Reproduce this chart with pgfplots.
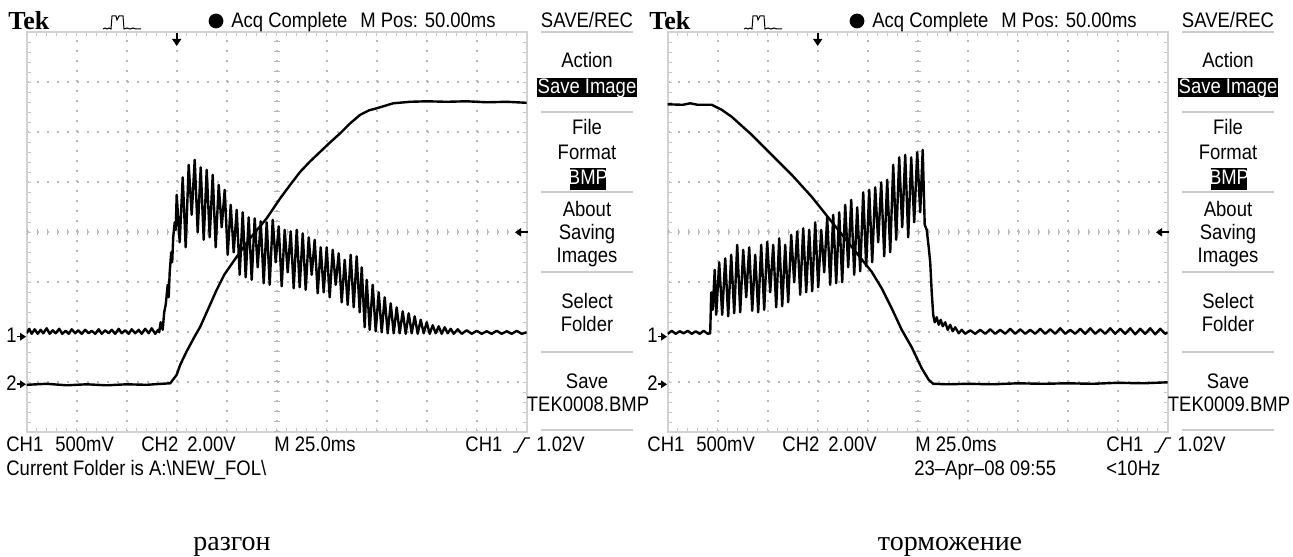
\documentclass[border=0pt]{standalone}
\usepackage{fontspec}
\setmainfont{Liberation Sans}[FakeStretch=0.88]
\newfontfamily\serif{Liberation Serif}
\usepackage{pgfplots}
\pgfplotsset{compat=1.18}
\usepackage{pgfplotstable}

% traces in screen divisions: x 0..10, y -4..4 (0 = centre line)
\pgfplotstableread{
x y
0.00 -2.02
0.05 -1.93
0.10 -2.03
0.16 -1.94
0.22 -2.03
0.28 -1.95
0.33 -2.02
0.40 -1.92
0.46 -2.03
0.52 -1.96
0.58 -2.02
0.65 -1.93
0.71 -2.03
0.78 -1.97
0.84 -2.03
0.90 -1.94
0.97 -2.02
1.03 -1.96
1.10 -2.03
1.17 -1.95
1.24 -2.02
1.30 -1.97
1.37 -2.03
1.44 -1.94
1.50 -2.03
1.57 -1.96
1.64 -2.02
1.70 -1.95
1.77 -2.03
1.84 -1.93
1.90 -2.02
1.97 -1.96
2.04 -2.03
2.10 -1.94
2.17 -2.02
2.24 -1.95
2.30 -2.03
2.37 -1.93
2.44 -2.02
2.50 -1.92
2.57 -2.03
2.63 -1.95
2.65 -2.00
2.68 -1.80
2.72 -1.95
2.75 -1.60
2.78 -1.45
2.82 -1.05
2.84 -1.30
2.86 -0.80
2.89 -0.40
2.91 -0.60
2.93 -0.10
2.96 0.20
2.98 0.05
3.00 0.75
3.06 -0.20
3.12 1.10
3.18 -0.30
3.24 1.35
3.30 0.35
3.36 1.45
3.42 0.00
3.48 1.30
3.54 -0.15
3.60 1.25
3.66 -0.10
3.72 1.15
3.78 -0.30
3.84 0.95
3.90 0.10
3.96 0.85
4.02 -0.45
4.08 0.55
4.14 -0.40
4.20 0.45
4.26 -0.85
4.32 0.40
4.38 -0.90
4.44 0.30
4.50 -0.95
4.56 0.28
4.62 -0.70
4.68 0.22
4.74 -1.02
4.80 0.20
4.86 -1.05
4.92 0.25
4.98 -0.60
5.04 0.12
5.10 -1.08
5.16 0.05
5.22 -0.80
5.28 0.02
5.34 -1.12
5.40 0.05
5.46 -1.10
5.52 -0.02
5.58 -1.15
5.64 -0.10
5.70 -0.85
5.76 -0.15
5.82 -1.22
5.88 -0.30
5.94 -1.20
6.00 -0.30
6.06 -1.30
6.12 -0.35
6.18 -1.05
6.24 -0.42
6.30 -1.40
6.36 -0.55
6.42 -1.45
6.48 -0.45
6.54 -1.50
6.60 -0.48
6.66 -1.60
6.70 -0.70
6.76 -1.90
6.80 -0.95
6.86 -1.95
6.92 -1.05
6.98 -1.98
7.04 -1.20
7.10 -2.00
7.16 -1.30
7.22 -2.02
7.28 -1.42
7.34 -2.02
7.40 -1.50
7.46 -2.02
7.52 -1.58
7.58 -2.03
7.64 -1.62
7.70 -2.02
7.76 -1.68
7.82 -2.03
7.88 -1.75
7.94 -2.02
8.00 -1.80
8.06 -2.03
8.12 -1.86
8.18 -2.02
8.24 -1.88
8.30 -2.03
8.36 -1.90
8.42 -2.02
8.48 -1.93
8.54 -2.03
8.62 -1.94
8.70 -2.03
8.80 -1.96
8.90 -2.03
9.00 -1.97
9.10 -2.03
9.20 -1.98
9.30 -2.03
9.40 -1.97
9.50 -2.03
9.60 -1.98
9.70 -2.03
9.80 -1.97
9.90 -2.03
10.00 -2.00
}\leftone

\pgfplotstableread{
x y
0.00 -3.05
0.40 -3.03
0.80 -3.06
1.20 -3.04
1.60 -3.06
2.00 -3.04
2.40 -3.05
2.70 -3.03
2.87 -3.02
3.00 -2.85
3.07 -2.65
3.20 -2.38
3.35 -2.10
3.47 -1.89
3.60 -1.60
3.80 -1.15
3.95 -0.85
4.13 -0.59
4.30 -0.35
4.47 -0.12
4.65 0.10
4.80 0.28
5.07 0.68
5.27 0.95
5.47 1.21
5.67 1.42
5.87 1.61
6.07 1.80
6.27 1.98
6.47 2.18
6.67 2.35
6.85 2.44
7.00 2.48
7.33 2.58
7.67 2.61
8.00 2.62
8.40 2.61
8.80 2.62
9.20 2.60
9.60 2.61
10.00 2.59
}\lefttwo

\pgfplotstableread{
x y
0.00 -2.03
0.08 -1.97
0.16 -2.03
0.24 -1.98
0.32 -2.02
0.40 -1.97
0.48 -2.03
0.56 -1.98
0.64 -2.03
0.72 -1.97
0.80 -2.03
0.85 -2.02
0.87 -1.20
0.90 -1.55
0.94 -0.75
0.97 -1.65
1.03 -0.60
1.09 -1.65
1.15 -0.52
1.21 -1.68
1.27 -0.45
1.33 -1.62
1.39 -0.25
1.45 -1.60
1.51 -0.35
1.57 -1.30
1.63 -0.30
1.69 -1.57
1.75 -0.45
1.81 -1.60
1.87 -0.25
1.93 -1.55
1.99 -0.19
2.05 -1.20
2.11 -0.25
2.17 -1.50
2.23 -0.12
2.29 -1.48
2.35 -0.25
2.41 -1.40
2.47 -0.05
2.53 -1.00
2.59 0.02
2.65 -1.25
2.71 0.08
2.77 -1.20
2.83 0.05
2.89 -1.18
2.95 0.20
3.01 -1.10
3.07 0.05
3.13 -0.80
3.19 0.30
3.25 -1.05
3.31 0.35
3.37 -1.02
3.43 0.40
3.49 -1.00
3.55 0.55
3.61 -0.70
3.67 0.65
3.73 -0.85
3.79 0.50
3.85 -0.78
3.91 0.80
3.97 -0.68
4.03 0.85
4.09 -0.60
4.15 0.90
4.21 -0.20
4.27 1.00
4.33 -0.48
4.39 1.05
4.45 -0.40
4.51 1.35
4.57 -0.15
4.63 1.50
4.69 0.10
4.75 1.55
4.81 -0.10
4.87 1.50
4.93 0.20
4.99 1.60
5.05 0.40
5.10 1.65
5.14 0.15
5.18 0.05
5.22 -0.30
5.25 -0.60
5.28 -1.20
5.31 -1.65
5.34 -1.80
5.38 -1.70
5.42 -1.85
5.46 -1.75
5.50 -1.88
5.55 -1.80
5.60 -1.95
5.65 -1.85
5.70 -1.98
5.75 -1.90
5.82 -2.02
5.88 -1.95
5.95 -2.03
6.05 -1.96
6.15 -2.03
6.25 -1.95
6.35 -2.03
6.45 -1.94
6.55 -2.03
6.65 -1.95
6.75 -2.03
6.85 -1.93
6.95 -2.03
7.05 -1.94
7.15 -2.03
7.25 -1.95
7.35 -2.03
7.45 -1.93
7.55 -2.03
7.65 -1.94
7.75 -2.03
7.85 -1.92
7.95 -2.03
8.05 -1.95
8.15 -2.03
8.25 -1.93
8.35 -2.03
8.45 -1.92
8.55 -2.03
8.65 -1.94
8.75 -2.03
8.85 -1.92
8.95 -2.03
9.05 -1.93
9.15 -2.03
9.25 -1.92
9.35 -2.04
9.45 -1.93
9.55 -2.03
9.65 -1.92
9.75 -2.04
9.85 -1.93
9.95 -2.03
10.00 -2.00
}\rightone

\pgfplotstableread{
x y
0.00 2.56
0.30 2.55
0.45 2.58
0.60 2.55
0.88 2.55
1.08 2.45
1.28 2.31
1.48 2.13
1.68 1.95
1.88 1.75
2.08 1.55
2.28 1.35
2.48 1.15
2.68 0.93
2.88 0.71
3.08 0.46
3.28 0.21
3.48 -0.04
3.68 -0.29
3.88 -0.54
4.08 -0.79
4.28 -1.12
4.48 -1.52
4.68 -1.95
4.88 -2.30
5.08 -2.72
5.22 -2.95
5.31 -3.03
5.60 -3.04
6.00 -3.03
6.50 -3.04
7.00 -3.02
7.50 -3.03
8.00 -3.02
8.50 -3.03
9.00 -3.01
9.50 -3.02
10.00 -3.00
}\righttwo

\pgfplotsset{
  scopegrid/.style={
    width=250pt, height=200pt, scale only axis,
    xmin=0, xmax=10, ymin=-4, ymax=4,
    xtick={0,...,10}, ytick={-4,...,4},
    minor x tick num=4, minor y tick num=4,
    xticklabels={}, yticklabels={},
    tick align=inside, tick pos=both,
    major tick length=2pt, minor tick length=2pt,
    tick style={gray!45, line width=0.6pt},
    grid=major,
    major grid style={gray!55, line width=1pt, dash pattern=on 1pt off 4pt},
    axis line style={gray!35, line width=1pt},
  },
  trace/.style={black, line width=1.2pt, no marks, line join=round},
}

% text, menu and markers of one screen, in screen pixels (y down)
\newcommand{\scopetext}[1]{%
  \node[anchor=base west, font=\fontsize{13}{13}\serif\bfseries] at (8,30) {Tek};
  \draw[line width=0.5pt] (103,29) -- (105,28) -- (107,29) -- (109,28) -- (111,29)
    -- (112,16) -- (116,16) -- (117,20) -- (119,16) -- (123,16) -- (124,29)
    -- (127,28) -- (130,29) -- (133,28) -- (136,29) -- (141,29);
  \fill (216,21) circle[radius=3.7pt];
  \node[anchor=base west] at (231,28) {Acq Complete};
  \node[anchor=base west] at (360,28) {M Pos: 50.00ms};
  \node[anchor=base] at (587,28) {SAVE/REC};
  \foreach \yy in {32,112,192,272,352,430}
    \draw[gray!40, line width=1pt] (541,\yy) -- (633,\yy);
  \node[anchor=base] at (587,68) {Action};
  \fill (537,78) rectangle (637,97);
  \node[anchor=base, white] at (587,94) {Save Image};
  \node[anchor=base] at (587,135) {File};
  \node[anchor=base] at (587,160) {Format};
  \fill (570,168) rectangle (606,190);
  \node[anchor=base, white] at (588,185) {BMP};
  \node[anchor=base] at (587,217) {About};
  \node[anchor=base] at (587,240) {Saving};
  \node[anchor=base] at (587,263) {Images};
  \node[anchor=base] at (587,309) {Select};
  \node[anchor=base] at (587,332) {Folder};
  \node[anchor=base] at (587,389) {Save};
  \node[anchor=base] at (588,412) {#1};
  % channel ground markers
  \node[anchor=base west] at (6,343) {1};
  \draw[line width=0.8pt] (17,336.7) -- (21,336.7);
  \fill (20,332.7) -- (26,336.7) -- (20,340.7) -- cycle;
  \node[anchor=base west] at (6,391) {2};
  \draw[line width=0.8pt] (17,384.3) -- (21,384.3);
  \fill (20,380.3) -- (26,384.3) -- (20,388.3) -- cycle;
  % trigger position and level
  \draw[line width=0.8pt] (176.7,33) -- (176.7,40);
  \fill (172,39) -- (181.4,39) -- (176.7,46) -- cycle;
  \draw[line width=0.8pt] (520,232.3) -- (528,232.3);
  \fill (515,232.3) -- (521,228) -- (521,236.6) -- cycle;
  % footer
  \node[anchor=base west] at (6,452) {CH1};
  \node[anchor=base west] at (55,452) {500mV};
  \node[anchor=base west] at (141,452) {CH2};
  \node[anchor=base west] at (187,452) {2.00V};
  \node[anchor=base west] at (274,452) {M 25.0ms};
  \node[anchor=base west] at (465,452) {CH1};
  \draw[line width=0.7pt] (513,452) -- (517,452) -- (525,438) -- (530,438);
  \node[anchor=base west] at (536,452) {1.02V};
}

\begin{document}
\begin{tikzpicture}
\path[use as bounding box] (0,0) rectangle (646.5pt,278pt);

\begin{axis}[scopegrid, at={(13.35pt,61.85pt)}, anchor=south west]
  \draw[gray!55, line width=3pt, dash pattern=on 0.6pt off 4.4pt] (axis cs:0,0) -- (axis cs:10,0);
  \draw[gray!55, line width=3pt, dash pattern=on 0.6pt off 4.4pt] (axis cs:5,-4) -- (axis cs:5,4);
  \addplot[trace] table {\lefttwo};
  \addplot[trace] table {\leftone};
\end{axis}

\begin{axis}[scopegrid, at={(333.85pt,61.85pt)}, anchor=south west]
  \draw[gray!55, line width=3pt, dash pattern=on 0.6pt off 4.4pt] (axis cs:0,0) -- (axis cs:10,0);
  \draw[gray!55, line width=3pt, dash pattern=on 0.6pt off 4.4pt] (axis cs:5,-4) -- (axis cs:5,4);
  \addplot[trace] table {\righttwo};
  \addplot[trace] table {\rightone};
\end{axis}

\begin{scope}[x=0.5pt, y=-0.5pt, shift={(0pt,278pt)},
  every node/.style={inner sep=0pt}, font=\fontsize{10.5}{12}\selectfont]
  \scopetext{TEK0008.BMP}
  \node[anchor=base west] at (6,475) {Current Folder is A:\textbackslash NEW\_FOL\textbackslash};
  \node[anchor=base, font=\fontsize{14}{16}\serif] at (232,550) {разгон};
\end{scope}

\begin{scope}[x=0.5pt, y=-0.5pt, shift={(320.5pt,278pt)},
  every node/.style={inner sep=0pt}, font=\fontsize{10.5}{12}\selectfont]
  \scopetext{TEK0009.BMP}
  \node[anchor=base west] at (273,475) {23–Apr–08 09:55};
  \node[anchor=base west] at (465,475) {<10Hz};
  \node[anchor=base, font=\fontsize{14}{16}\serif] at (309,550) {торможение};
\end{scope}
\end{tikzpicture}
\end{document}
